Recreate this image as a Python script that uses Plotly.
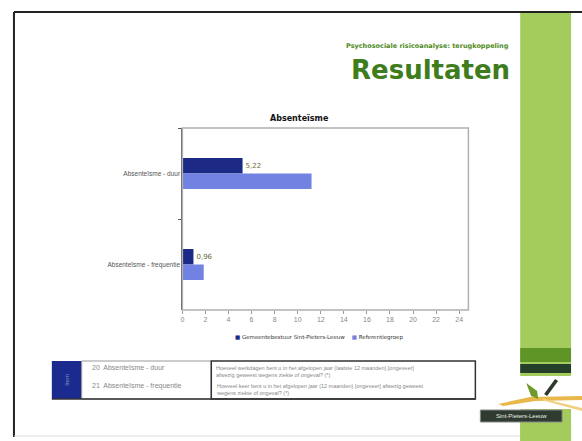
import plotly.graph_objects as go

W, H = 582, 441

categories = ["Absenteïsme - duur", "Absenteïsme - frequentie"]
gemeente_values = [5.22, 0.96]
referentie_values = [11.2, 1.85]
gemeente_labels = ["5,22", "0,96"]
series_names = ["Gemeentebestuur Sint-Pieters-Leeuw", "Referentiegroep"]
x_ticks = list(range(0, 25, 2))
table_items = ["20  Absenteïsme - duur", "21  Absenteïsme - frequentie"]
table_questions = [
    "Hoeveel werkdagen bent u in het afgelopen jaar (laatste 12 maanden) [ongeveer]<br>afwezig geweest wegens ziekte of ongeval? (*)",
    "Hoeveel keer bent u in het afgelopen jaar (12 maanden) [ongeveer] afwezig geweest<br>wegens ziekte of ongeval? (*)",
]

def px(x):
    return x / W

def py(y):
    return 1 - y / H

DARK = "#1c2a86"
LIGHT = "#7282e2"

fig = go.Figure()
fig.add_trace(go.Bar(
    y=categories, x=gemeente_values, orientation="h", name=series_names[0],
    marker=dict(color=DARK, line=dict(width=0)), showlegend=False,
    text=gemeente_labels, textposition="outside", cliponaxis=False,
    textfont=dict(size=7, color="#6b6b3a", family="DejaVu Sans"),
))
fig.add_trace(go.Bar(
    y=categories, x=referentie_values, orientation="h", name=series_names[1],
    marker=dict(color=LIGHT, line=dict(width=0)), showlegend=False,
))

shapes = []
# green strip
shapes.append(dict(type="rect", xref="paper", yref="paper", x0=px(520), x1=px(571), y0=py(13), y1=py(441),
                   fillcolor="#a3cc5c", line=dict(width=0)))
shapes.append(dict(type="rect", xref="paper", yref="paper", x0=px(520), x1=px(571), y0=py(348), y1=py(362),
                   fillcolor="#5f9426", line=dict(width=0)))
shapes.append(dict(type="rect", xref="paper", yref="paper", x0=px(520), x1=px(571), y0=py(364), y1=py(373),
                   fillcolor="#24402a", line=dict(width=0)))
shapes.append(dict(type="rect", xref="paper", yref="paper", x0=px(500), x1=px(582), y0=py(376), y1=py(409),
                   fillcolor="#ffffff", line=dict(width=0)))
shapes.append(dict(type="rect", xref="paper", yref="paper", x0=px(520), x1=px(571), y0=py(422), y1=py(441),
                   fillcolor="#a3cc5c", line=dict(width=0)))
# slide frame
shapes.append(dict(type="line", xref="paper", yref="paper", x0=px(12), x1=px(582), y0=py(12), y1=py(12),
                   line=dict(color="#222", width=2)))
shapes.append(dict(type="line", xref="paper", yref="paper", x0=px(12), x1=px(12), y0=py(12), y1=py(437),
                   line=dict(color="#222", width=2)))
shapes.append(dict(type="line", xref="paper", yref="paper", x0=px(12), x1=px(520), y0=py(436), y1=py(436),
                   line=dict(color="#ddd", width=1)))

# logo leaves / swoosh
def path(points):
    return "M " + " L ".join(f"{px(a)},{py(b)}" for a, b in points) + " Z"

shapes.append(dict(type="path", xref="paper", yref="paper",
                   path=path([(498, 404), (530, 397), (582, 396), (582, 400), (535, 401), (503, 406)]),
                   fillcolor="#e8b84a", line=dict(width=0)))
shapes.append(dict(type="path", xref="paper", yref="paper",
                   path=path([(540, 398), (582, 408), (582, 411), (545, 401)]),
                   fillcolor="#f0d080", line=dict(width=0)))
shapes.append(dict(type="path", xref="paper", yref="paper",
                   path=path([(526, 383), (537, 391), (538, 399), (531, 396)]),
                   fillcolor="#6e9a2a", line=dict(width=0)))
shapes.append(dict(type="path", xref="paper", yref="paper",
                   path=path([(555, 379), (558, 381), (547, 396), (544, 394)]),
                   fillcolor="#2d3a2a", line=dict(width=0)))
shapes.append(dict(type="rect", xref="paper", yref="paper", x0=px(480), x1=px(562), y0=py(410), y1=py(422),
                   fillcolor="#2f3a30", line=dict(color="#888", width=1)))
# plot box
shapes.append(dict(type="rect", xref="paper", yref="paper", x0=px(181), x1=px(468), y0=py(310), y1=py(128),
                   line=dict(color="#b0b0b0", width=1.5)))
# table
shapes.append(dict(type="rect", xref="paper", yref="paper", x0=px(50), x1=px(80), y0=py(399), y1=py(361),
                   fillcolor="#1b2a8e", line=dict(width=0)))
shapes.append(dict(type="rect", xref="paper", yref="paper", x0=px(80), x1=px(210), y0=py(399), y1=py(361),
                   fillcolor="#ffffff", line=dict(color="#999", width=1)))
shapes.append(dict(type="rect", xref="paper", yref="paper", x0=px(210), x1=px(475), y0=py(399), y1=py(361),
                   fillcolor="#ffffff", line=dict(color="#333", width=1.5)))
shapes.append(dict(type="line", xref="paper", yref="paper", x0=px(50), x1=px(475), y0=py(399), y1=py(399),
                   line=dict(color="#333", width=1.5)))

annotations = []
annotations.append(dict(text="<b>Psychosociale risicoanalyse: terugkoppeling</b>", x=px(511), y=py(46),
                        xref="paper", yref="paper", xanchor="right", yanchor="middle", showarrow=False,
                        font=dict(size=6.5, color="#4e8a22", family="DejaVu Sans")))
annotations.append(dict(text="<b>Resultaten</b>", x=px(512), y=py(70), xref="paper", yref="paper",
                        xanchor="right", yanchor="middle", showarrow=False,
                        font=dict(size=26, color="#3f7c1c", family="DejaVu Sans")))
annotations.append(dict(text="<b>Absenteïsme</b>", x=px(299), y=py(118), xref="paper", yref="paper",
                        xanchor="center", yanchor="middle", showarrow=False,
                        font=dict(size=8, color="#111", family="DejaVu Sans")))
# legend
annotations.append(dict(
    text=(f"<span style='color:{DARK}'>■</span> {series_names[0]}    "
          f"<span style='color:{LIGHT}'>■</span> {series_names[1]}"),
    x=px(318), y=py(337), xref="paper", yref="paper", xanchor="center", yanchor="middle",
    showarrow=False, font=dict(size=5.5, color="#333", family="DejaVu Sans")))
annotations.append(dict(text="Item", x=px(65), y=py(380), xref="paper", yref="paper", textangle=-90,
                        xanchor="center", yanchor="middle", showarrow=False,
                        font=dict(size=6, color="#8890c0", family="Liberation Sans")))
for i, t in enumerate(table_items):
    annotations.append(dict(text=t, x=px(88), y=py(367 + i * 19), xref="paper", yref="paper",
                            xanchor="left", yanchor="middle", showarrow=False,
                            font=dict(size=7, color="#888", family="Liberation Sans Narrow, Liberation Sans")))
for i, t in enumerate(table_questions):
    annotations.append(dict(text=t, x=px(213), y=py(371 + i * 18), xref="paper", yref="paper",
                            xanchor="left", yanchor="middle", showarrow=False, align="left",
                            font=dict(size=5.5, color="#888", family="Liberation Sans Narrow, Liberation Sans")))
annotations.append(dict(text="Sint-Pieters-Leeuw", x=px(521), y=py(416), xref="paper", yref="paper",
                        xanchor="center", yanchor="middle", showarrow=False,
                        font=dict(size=6, color="#e8efe0", family="Liberation Sans Narrow, Liberation Sans")))

fig.update_layout(
    width=W, height=H, margin=dict(l=0, r=0, t=0, b=0),
    paper_bgcolor="#ffffff", plot_bgcolor="#ffffff",
    barmode="group", bargap=0.66, bargroupgap=0,
    showlegend=False,
    xaxis=dict(domain=[px(181), px(468)], range=[0, 24.8], tickvals=x_ticks,
               ticks="outside", ticklen=3, tickcolor="#999", showgrid=False, zeroline=False,
               showline=False, tickfont=dict(size=7, color="#888", family="Liberation Sans")),
    yaxis=dict(domain=[py(310), py(128)], autorange="reversed", showgrid=False, zeroline=False,
               showline=True, linecolor="#555", linewidth=1, ticks="outside", tickson="boundaries",
               ticklen=3, tickcolor="#555",
               tickfont=dict(size=6.5, color="#555", family="Liberation Sans")),
    shapes=shapes, annotations=annotations,
)

fig.write_html("out.html")
